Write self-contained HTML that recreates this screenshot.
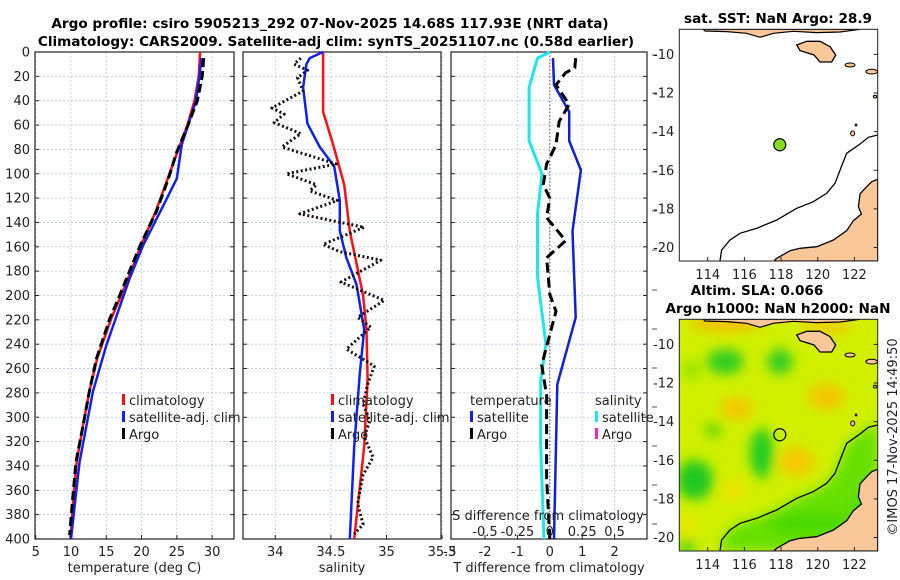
<!DOCTYPE html>
<html><head><meta charset="utf-8">
<style>
html,body{margin:0;padding:0;background:#fff;}
svg{display:block;font-family:"DejaVu Sans","Liberation Sans",sans-serif;}
.t{font-size:13px;fill:#222;}
.ti{font-size:13.6px;font-weight:bold;fill:#000;}
</style></head>
<body>
<svg id="fig" width="900" height="580" viewBox="0 0 900 580" xmlns="http://www.w3.org/2000/svg">
<rect width="900" height="580" fill="#fff"/>
<text class="ti" x="330" y="28" text-anchor="middle">Argo profile: csiro 5905213_292 07-Nov-2025 14.68S 117.93E (NRT data)</text>
<text class="ti" x="336" y="46" text-anchor="middle">Climatology: CARS2009. Satellite-adj clim: synTS_20251107.nc (0.58d earlier)</text>
<g id="panels"></g>
<g id="maps"></g>
<text class="t" transform="translate(897,437) rotate(-90)" text-anchor="middle">©IMOS 17-Nov-2025 14:49:50</text>
</svg>
<script>
// ---- data ----
const depthTicks=[0,20,40,60,80,100,120,140,160,180,200,220,240,260,280,300,320,340,360,380,400];
const tempTicks=[5,10,15,20,25,30];
const salTicks=[34,34.5,35,35.5];
const salTickLabels=["34","34.5","35","35.5"];
const tdTicks=[-2,-1,0,1,2];
const sdTicks=[-0.5,-0.25,0,0.25,0.5];
const sdTickLabels=["-0.5","-0.25","0","0.25","0.5"];
// temperature panel
const tArgoD=[5,20,40,60,82,104,131,159,180,200,219,252,279,307,337,370,397];
const tArgoV=[28.8,28.6,27.9,26.6,25.0,23.8,22.1,19.8,18.3,16.9,15.5,13.6,12.6,11.7,10.7,10.2,9.8];
const tClimD=[0,20,40,60,82,104,131,159,180,200,219,252,279,307,337,370,400];
const tClimV=[28.3,28.1,27.5,26.5,25.1,23.7,22.0,19.9,18.5,17.1,15.7,13.7,12.6,11.7,10.8,10.3,9.9];
const tSatD=[5,20,40,60,76,104,126,159,186,241,279,337,400];
const tSatV=[28.5,28.2,27.7,26.6,25.7,25.0,23.1,20.2,18.3,15.0,13.1,11.2,10.0];
// salinity panel
const sClimD=[0,20,49,76,109,147,200,228,269,324,400];
const sClimV=[34.43,34.43,34.43,34.52,34.62,34.67,34.79,34.82,34.83,34.80,34.71];
const sSatD=[0,5,10,29,59,78,94,122,147,169,191,228,264,324,400];
const sSatV=[34.43,34.31,34.28,34.25,34.29,34.40,34.53,34.58,34.58,34.64,34.73,34.80,34.76,34.71,34.67];
const sArgoD=[5,10,15,21,32,46,51,58,67,78,92,100,109,114,122,133,144,158,164,171,189,204,218,226,244,258,273,289,303,316,333,347,371,388,396];
const sArgoV=[34.23,34.17,34.29,34.20,34.25,33.97,34.08,33.99,34.23,34.06,34.55,34.10,34.37,34.31,34.56,34.22,34.80,34.43,34.58,34.95,34.59,34.98,34.74,34.86,34.64,34.89,34.83,34.79,34.85,34.80,34.88,34.79,34.74,34.79,34.71];
// difference panel (T units; S diff plotted x4)
const dSatTD=[5,27,49,73,97,147,218,273,400];
const dSatTV=[0.1,0.13,0.6,0.6,0.96,0.7,0.8,0.23,0.13];
const dSatSD=[0,5,29,73,100,133,185,240,270,322,400];
const dSatSV=[0,-0.095,-0.16,-0.16,-0.06,-0.095,-0.095,-0.03,-0.07,-0.07,-0.045];
const dArgoTD=[5,13,17,27,43,57,76,87,92,109,120,136,155,169,199,213,257,282,350,400];
const dArgoTV=[0.8,0.77,0.49,0.19,0.6,0.29,0.19,0,-0.1,-0.2,0,-0.1,0.49,-0.1,0,0.19,-0.25,-0.1,-0.1,0];

const NS="http://www.w3.org/2000/svg";
function mk(tag,attrs,parent){const e=document.createElementNS(NS,tag);for(const k in attrs)e.setAttribute(k,attrs[k]);parent.appendChild(e);return e;}
const P=document.getElementById('panels');
const Y0=52,Y1=539;
const yScale=d=>Y0+(d/400)*(Y1-Y0);
const panels=[
 {x0:35,x1:234,v0:4.9,v1:33.1,name:'temperature'},
 {x0:243,x1:441,v0:33.71,v1:35.49,name:'salinity'},
 {x0:451,x1:647,v0:-3.05,v1:3.0,name:'difference'}];
panels.forEach(p=>{p.sx=v=>p.x0+(v-p.v0)/(p.v1-p.v0)*(p.x1-p.x0);});
const [pT,pS,pD]=panels;

function frame(p,xt,xl,label){
 const g=mk('g',{},P);
 
 
 depthTicks.forEach(d=>{const y=yScale(d);
  const l=mk('line',{x1:p.x0,x2:p.x1,y1:y,y2:y,stroke:'#b8c4e8','stroke-width':0.8,'stroke-dasharray':'2,2'},g);
  
  mk('line',{x1:p.x0,x2:p.x0+4,y1:y,y2:y,stroke:'#222'},g);
  mk('line',{x1:p.x1-4,x2:p.x1,y1:y,y2:y,stroke:'#222'},g);
 });
 xt.forEach((v,i)=>{const x=p.sx(v);
  const l=mk('line',{x1:x,x2:x,y1:Y0,y2:Y1,stroke:'#b8c4e8','stroke-width':0.8,'stroke-dasharray':'2,2'},g);
  
  mk('line',{x1:x,x2:x,y1:Y1-4,y2:Y1,stroke:'#222'},g);
  const t=mk('text',{x:x,y:Y1+17,class:'t','text-anchor':'middle'},g);t.textContent=xl[i];
  
 });
 const r=mk('rect',{x:p.x0,y:Y0,width:p.x1-p.x0,height:Y1-Y0,fill:'none',stroke:'#222','stroke-width':1.2},g);
 
 const t=mk('text',{x:(p.x0+p.x1)/2,y:Y1+33,class:'t','text-anchor':'middle'},g);t.textContent=label;
 
 return g;
}
const gT=frame(pT,tempTicks,tempTicks.map(String),'temperature (deg C)');
const gS=frame(pS,salTicks,salTickLabels,'salinity');
const gD=frame(pD,tdTicks,tdTicks.map(String),'T difference from climatology');
{const t=mk('text',{x:pD.sx(-3)-3,y:Y1+17,class:'t','text-anchor':'middle'},gD);t.textContent='-3';
}
depthTicks.forEach(d=>{const t=mk('text',{x:30,y:yScale(d)+4.5,class:'t','text-anchor':'end'},P);t.textContent=d;
 });
{const x=pD.sx(0);const l=mk('line',{x1:x,x2:x,y1:Y0,y2:Y1,stroke:'#555','stroke-width':1,'stroke-dasharray':'1.5,2'},gD);
 }
[55,93,133,172,211,250,290,329,368,407,446,485,524].forEach(y=>mk('line',{x1:652,x2:657,y1:y,y2:y,stroke:'#555'},P));

function line(g,p,D,V,color,w,dash,name,scale){
 const pts=D.map((d,i)=>p.sx(V[i]*(scale||1)).toFixed(1)+','+yScale(d).toFixed(1)).join(' ');
 const a={points:pts,fill:'none',stroke:color,'stroke-width':w,'stroke-linejoin':'round'};
 if(dash)a['stroke-dasharray']=dash;
 const e=mk('polyline',a,g);
 
}
line(gT,pT,tClimD,tClimV,'#ff1010',2.5,null,'temp-climatology-line');
line(gT,pT,tSatD,tSatV,'#1020f0',2.5,null,'temp-satellite-line');
line(gT,pT,tArgoD,tArgoV,'#000',3,'9,4','temp-argo-line');
line(gS,pS,sClimD,sClimV,'#ff1010',2.5,null,'sal-climatology-line');
line(gS,pS,sSatD,sSatV,'#1020f0',2.5,null,'sal-satellite-line');
line(gS,pS,sArgoD,sArgoV,'#111',3,'2,2.5','sal-argo-line');
line(gD,pD,dSatSD,dSatSV,'#22e6e6',3,null,'sal-diff-satellite-line',4);
line(gD,pD,dSatTD,dSatTV,'#1020d0',2.5,null,'temp-diff-satellite-line');
line(gD,pD,dArgoTD,dArgoTV,'#000',3,'10,5','temp-diff-argo-line');

{const t=mk('text',{x:548,y:520,class:'t','text-anchor':'middle'},gD);t.textContent='S difference from climatology';
 
 sdTicks.forEach((v,i)=>{const tt=mk('text',{x:pD.sx(v*4),y:536,class:'t','text-anchor':'middle'},gD);tt.textContent=sdTickLabels[i];
  });}

function legend(g,x,y,items,name){
 const lg=mk('g',{},g);
 items.forEach((it,i)=>{
  if(it[0])mk('rect',{x:x,y:y+i*17-11,width:3,height:11,fill:it[0]},lg);
  const t=mk('text',{x:x+(it[0]?7:0),y:y+i*17,class:'t'},lg);t.textContent=it[1];
  
 });
}
legend(gT,122,405,[['#ff1010','climatology'],['#1020f0','satellite-adj. clim'],['#000','Argo']],'temp-legend');
legend(gS,331,405,[['#ff1010','climatology'],['#1020f0','satellite-adj. clim'],['#000','Argo']],'sal-legend');
legend(gD,470,405,[[null,'temperature'],['#1020f0','satellite'],['#000','Argo']],'diff-temp-legend');
legend(gD,595,405,[[null,'salinity'],['#22e6e6','satellite'],['#ff20c0','Argo']],'diff-sal-legend');

// ---- maps ----
const latTicks=[-10,-12,-14,-16,-18,-20];
const lonTicks=[114,116,118,120,122];
const argoLon=117.93, argoLat=-14.68;
const M=document.getElementById('maps');
const mx0=679.3,mx1=877.7,lon0=112.45,lon1=123.27,lat0=-8.70,lat1=-20.70;
const MH=231.7;
const lonX=v=>mx0+(v-lon0)/(lon1-lon0)*(mx1-mx0);
// shapes in reference-crop coords (map box spans 58..653 x 88..783)
const island=[[410,135],[440,124],[480,124],[510,140],[527,165],[515,186],[480,186],[462,165],[420,152]];
const topLand=[[130,88],[135,93],[200,95],[260,100],[300,112],[340,100],[400,94],[470,98],[540,96],[600,88]];
const land=[[653,538],[635,545],[618,562],[600,582],[595,620],[604,642],[580,662],[560,692],[520,720],[470,740],[420,745],[390,752],[350,775],[342,783],[653,783]];
const contour=[[653,405],[625,412],[600,432],[560,460],[547,492],[525,550],[500,580],[460,605],[410,625],[350,660],[290,685],[240,700],[210,720],[185,750],[180,783]];
const smallIs=[[570,195,30,12],[635,215,35,14],[578,400,12,15],[645,290,10,8],[588,375,5,6]];
function drawMap(mt,title,heat,idx){
 const mb=mt+MH;
 const latY=v=>mt+(v-lat0)/(lat1-lat0)*MH;
 const px=x=>mx0+(x-58)/595*(mx1-mx0), py=y=>mt+(y-88)/695*MH;
 const g=mk('g',{},M);
 const cid='clip'+idx;
 const cp=mk('clipPath',{id:cid},g);mk('rect',{x:mx0,y:mt,width:mx1-mx0,height:MH},cp);
 const inner=mk('g',{'clip-path':'url(#'+cid+')'},g);
 const toPts=arr=>arr.map(p=>px(p[0]).toFixed(1)+','+py(p[1]).toFixed(1)).join(' ');
 if(heat){
  const defs=mk('defs',{},g);
  const f=mk('filter',{id:'blur2',x:'-50%',y:'-50%',width:'200%',height:'200%'},defs);mk('feGaussianBlur',{stdDeviation:6},f);
  mk('rect',{x:mx0,y:mt,width:mx1-mx0,height:MH,fill:'#d0f000'},inner);
  const hb=mk('g',{filter:'url(#blur2)'},inner);
  mk('polygon',{points:toPts(contour.concat([[653,783]])),fill:'#66e000'},hb);
  const blobs=[[200,100,110,25,'#f4c000'],[500,110,80,22,'#f2cc00'],[195,215,55,38,'#30cc20'],[360,215,38,38,'#33cc22'],[95,240,30,30,'#99e400'],
   [230,355,50,32,'#f6c600'],[500,320,55,38,'#f4c600'],[160,420,25,20,'#55d400'],[305,490,35,75,'#22cc22'],[410,515,55,42,'#f6c800'],
   [105,570,55,60,'#20c820'],[220,600,35,35,'#ece200'],[450,700,130,28,'#44d800'],[80,705,25,30,'#eee400'],[80,770,25,18,'#22c822'],[600,650,30,40,'#55dd00']];
  blobs.forEach(b=>mk('ellipse',{cx:px(b[0]),cy:py(b[1]),rx:b[2]/3,ry:b[3]/3,fill:b[4]},hb));
 }
 const l1=mk('polygon',{points:toPts(land),fill:'#fac898',stroke:'#000','stroke-width':1.3},inner);
 const l3=mk('polygon',{points:toPts(topLand),fill:'#fac898',stroke:'#000','stroke-width':1.2},inner);
 const l2=mk('polygon',{points:toPts(island),fill:'#fac898',stroke:'#000','stroke-width':1.3},inner);
 mk('polyline',{points:toPts(contour),fill:'none',stroke:'#000','stroke-width':1.3},inner);
 smallIs.forEach(s=>mk('ellipse',{cx:px(s[0]),cy:py(s[1]),rx:s[2]/6,ry:s[3]/6,fill:'#fac898',stroke:'#000','stroke-width':1},inner));
 mk('rect',{x:mx0,y:mt,width:mx1-mx0,height:MH,fill:'none',stroke:'#222','stroke-width':1},g);
 latTicks.forEach(v=>{const y=latY(v);mk('line',{x1:mx1-4,x2:mx1,y1:y,y2:y,stroke:'#222'},g);
  const t=mk('text',{x:mx0-5,y:y+4.5,class:'t','text-anchor':'end'},g);t.textContent=v;
  });
 lonTicks.forEach(v=>{const x=lonX(v);mk('line',{x1:x,x2:x,y1:mb-4,y2:mb,stroke:'#222'},g);
  const t=mk('text',{x:x,y:mb+18,class:'t','text-anchor':'middle'},g);t.textContent=v;
  });
 const c=mk('circle',{cx:lonX(argoLon),cy:latY(argoLat),r:6,fill:heat?'none':'#88dd22',stroke:'#000','stroke-width':1.2},g);
 
 title.forEach(s=>{const t=mk('text',{x:s[1],y:s[2],class:'ti','text-anchor':'middle'},g);t.textContent=s[0];
  });
}
drawMap(29.3,[['sat. SST: NaN Argo: 28.9',778,23]],false,1);
drawMap(319.3,[['Altim. SLA: 0.066',757,295],['Argo h1000: NaN h2000: NaN',778,313]],true,2);
</script>
</body></html>
